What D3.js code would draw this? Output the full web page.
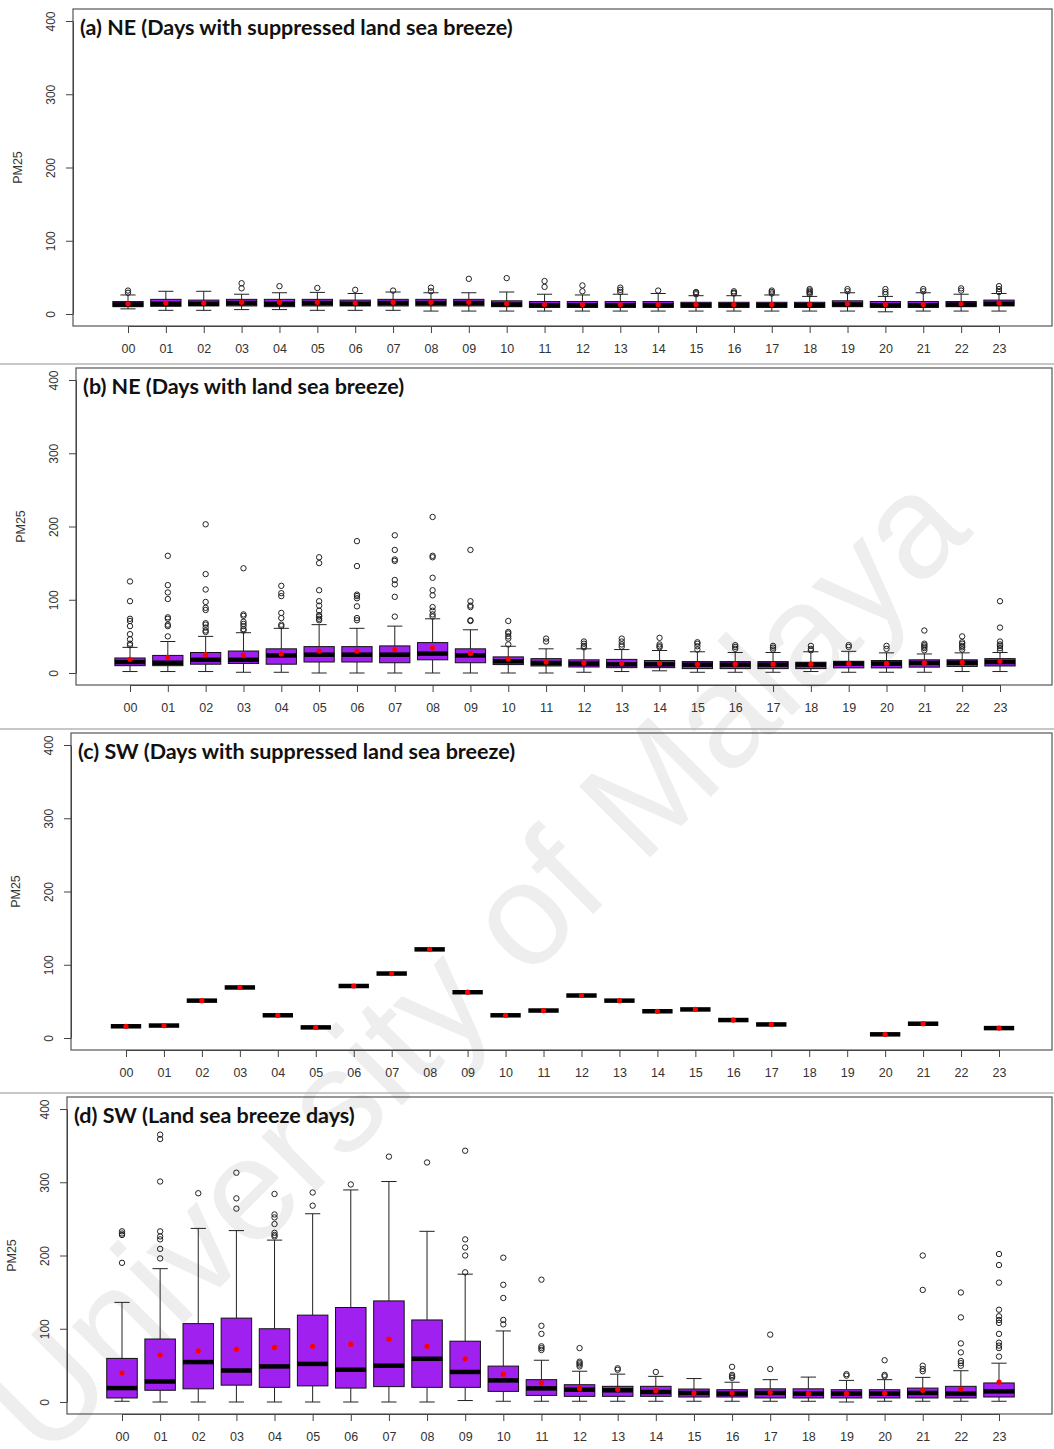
<!DOCTYPE html>
<meta charset="utf-8">
<style>

body {
  margin: 0;
  background: #fff;
}
svg text {
  font-family: "Liberation Sans", Arial, sans-serif;
}
.frame {
  fill: none;
  stroke: #555;
  stroke-width: 1.2px;
}
.axis path,
.axis line {
  fill: none;
  stroke: #444;
}
.axis text {
  fill: #333;
}
.title {
  font-family: Lato, "Open Sans", sans-serif;
  font-weight: bold;
  font-size: 21.5px;
  fill: #111;
}
.whisker {
  stroke: #222;
  stroke-width: 1px;
}
.box {
  fill: #a020f0;
  stroke: #111;
  stroke-width: 1px;
}
.median {
  stroke: #000;
  stroke-width: 4.5px;
}
.out {
  fill: none;
  stroke: #222;
  stroke-width: 1px;
}
.mean {
  fill: #ff0000;
}

</style>
<body>
<script src="https://d3js.org/d3.v7.min.js"></script>
<script>

var hours = ["00","01","02","03","04","05","06","07","08","09","10","11",
             "12","13","14","15","16","17","18","19","20","21","22","23"];
var yTicks = [0, 100, 200, 300, 400];

// (a) NE, suppressed land sea breeze
var aLow  = [7,5,5,6,6,5,5,5,4,4,4,4,4,4,4,4,4,4,4,4,3,4,4,4];
var aQ1   = [10,10.5,11,11,10,11,11,11,11,11,10,9,9,9,9,9,9,9,9,10,9,9,10,11];
var aMed  = [13,14,14,15,14,15,14,15,15,15,13,12,12,12,12,12,12,12,12,13,12,12,13,14];
var aQ3   = [17,20,19,20,20,20,19,20,20,20,18,17,17,17,17,16,16,16,16,18,17,17,17,19];
var aHigh = [26,31,31,27,29,29.5,28,30,29,29,30,27,26,27,28,25,25,26,24,29,24,29,27,28];
var aMean = [14,15,15,16,16,16,15,16,16,16,14,13,13,13,13,13,13,13,13,14,13,13,14,15];
var aOut  = [[29,32],[],[],[35,42],[38],[35.5],[33],[32],[31,36],[48],[49],[37,45],
             [31,39],[30,33,36],[32],[27,29,30],[28,29,31],[28,30,32],[27,29,30,32,34],
             [31,34],[27,30,34],[31,34],[32,35],[30,34,38]];

// (b) NE, land sea breeze
var bLow  = [2,2,2,1,1,0,0,0,0,0,0,0,1,2,3,1,1,1,2,1,1,1,2,2];
var bQ1   = [10,10,12,13,12,15,15,14,18,14,11.5,9.6,8.2,7.3,7.3,6,6,6,6,7,7,8,9,9.6];
var bMed  = [15,14,18,18,24,25,25,25,26.5,24,16,13.7,12.8,11.8,11.8,11.4,11.4,11.4,11.4,12.8,12.8,13.7,14,15];
var bQ3   = [20.5,24,28,30,33,36,36,37,41.5,33,22,19.6,18,18.6,17,15.6,15.6,15.6,14.7,16,17,18,18,19.6];
var bHigh = [35,43,50,55,61,66,61,64,74,59,36.5,33,33,32,30.7,29,28,28,29,29.6,27.5,26,27.5,28];
var bMean = [18.7,21,25,24.5,26,30,30,32,34,26.5,19,15,13.7,12.8,12.8,11.8,12,12,12,13,13,14,14.5,16];
var bOut  = [[125,98,74,71,64,53,46,40,38],
             [160,120,110,101,76,74,66,64,50],
             [203,135,114,97,89,86,68,66,62,58,56],
             [143,80,78,70,67,64,60,58],
             [119,109,105,82,75,66,64],
             [158,150,113,98,92,85,79,77,74,72],
             [180,146,107,105,102,91,75,72],
             [188,168,155,153,127,121,104,77],
             [213,160,158,130,113,106,90,85,80,77],
             [168,98,92,90,72,71],
             [71,56,54,50,47,39],
             [47,43],
             [43,40,37,35],
             [47,43,39,36],
             [48,39,36.5,35],
             [42,40,36.5,32],
             [38,35.6,33],
             [37,34.6,32],
             [37,33,31],
             [38,35.6],
             [37,33],
             [58,40,38,36,34,31],
             [50,42,40,37,35,32],
             [98,62,43,39,37,34,31]];

// (c) SW, suppressed land sea breeze (one value per hour, none at 18, 19, 22)
var cVal  = [16,17,51,69,31,14.5,71,88,121,62.5,31,37.5,58,51,36.5,39,24.5,18.5,null,null,5,19.5,null,13.5];

// (d) SW, land sea breeze days
var dLow  = [1,0,0,0,0,0,0,0,0,2,1,1,1,1,1,1,1,1,1,0,1,1,1,1];
var dQ1   = [5.5,16,18,23,20,22,19,21,20,20,14.5,9,7.7,7.7,7.7,6.8,6.8,5.5,5.5,5.5,5.5,5.5,5.5,6.8];
var dMed  = [19,28,54.5,43,48.6,52,44,49.5,59,41,29.5,18.6,16.8,16,13.6,12.3,11.4,12.3,11.4,11.4,11.4,12.3,11.4,14.5];
var dQ3   = [59.5,86,107,114.5,100,118.6,129,138,112,83,49,30.5,23.6,21.4,21.4,17.7,16.8,18,18,16.8,16.8,19,21.4,26];
var dHigh = [136,182,237,234,221,257,289.5,301,233,174.5,97,57,42,38,35,32,27,30.5,34,29.5,30.5,33.6,42.7,53];
var dMean = [39.5,64,70,72,74.5,76,79,86,76,59,38,26,18.6,17,15.5,12.3,12.3,13,11.4,11.4,11.8,16,17.7,27];
var dOut  = [[233,230,228,190],
             [365,359,301,233,226,222,209,196],
             [285],
             [313,278,264],
             [284,256,252,243,231,228,226],
             [286,268],
             [297],
             [335],
             [327],
             [343,222,211,200,177],
             [197,160,142,112,106],
             [167,104,93,76,73.6,71],
             [73.6,55,53,51,48.6],
             [46,44],
             [41],
             [],
             [48,37,35,33],
             [92,45],
             [],
             [38,36],
             [57,37,35],
             [200,153,49.5,45,42],
             [149.5,115.5,80,67.7,56,53,49.5],
             [202,187,163,126,117,112,108,93,81,77,73.6,62]];

var titles = ["(a) NE (Days with suppressed land sea breeze)",
              "(b) NE (Days with land sea breeze)",
              "(c) SW (Days with suppressed land sea breeze)",
              "(d) SW (Land sea breeze days)"];

var panels = [
  {low: aLow, q1: aQ1, med: aMed, q3: aQ3, high: aHigh, mean: aMean, out: aOut},
  {low: bLow, q1: bQ1, med: bMed, q3: bQ3, high: bHigh, mean: bMean, out: bOut},
  {low: cVal, q1: cVal, med: cVal, q3: cVal, high: cVal, mean: cVal, out: cVal.map(function() { return []; })},
  {low: dLow, q1: dQ1, med: dMed, q3: dQ3, high: dHigh, mean: dMean, out: dOut}
];

// layout of each panel in the page
var panelTop  = [9, 368, 733, 1097],
    frameLeft = [73, 76, 71, 67],
    firstX    = [128, 130, 126, 122],
    lastX     = [999, 1000, 999, 999],
    frameRight = 1052,
    frameH = 317;

var svg = d3.select("body").append("svg")
    .attr("width", 1054)
    .attr("height", 1449);

// watermark behind everything
svg.append("text")
    .attr("transform", "translate(474,962) rotate(-45)")
    .attr("text-anchor", "middle")
    .attr("dominant-baseline", "central")
    .style("font-size", "146px")
    .style("fill", "#eeeeee")
    .text("University of Malaya");

// thin separators between the stacked pictures
[364, 729, 1093].forEach(function(yy) {
  svg.append("line")
      .attr("x1", 0).attr("x2", 1054)
      .attr("y1", yy).attr("y2", yy)
      .style("stroke", "#b5b5b5")
      .style("stroke-width", 1.5);
});

panels.forEach(function(p, k) {
  var top = panelTop[k],
      bottom = top + frameH;

  var x = d3.scaleLinear().domain([0, 23]).range([firstX[k], lastX[k]]);
  var y = d3.scaleLinear().domain([0, 400]).range([top + 305, top + 12]);
  var boxW = (x(1) - x(0)) * 0.8;

  var g = svg.append("g");

  g.append("rect")
      .attr("class", "frame")
      .attr("x", frameLeft[k])
      .attr("y", top)
      .attr("width", frameRight - frameLeft[k])
      .attr("height", frameH);

  var xAxis = d3.axisBottom(x)
      .tickValues(d3.range(24))
      .tickFormat(function(i) { return hours[i]; })
      .tickSize(7)
      .tickSizeOuter(0)
      .tickPadding(11);

  g.append("g")
      .attr("class", "x axis")
      .attr("transform", "translate(0," + bottom + ")")
      .call(xAxis)
      .selectAll("text")
      .style("font-size", "12.5px");

  var yAxis = d3.axisLeft(y)
      .tickValues(yTicks)
      .tickSize(7)
      .tickSizeOuter(0);

  g.append("g")
      .attr("class", "y axis")
      .attr("transform", "translate(" + frameLeft[k] + ",0)")
      .call(yAxis)
      .selectAll("text")
      .attr("transform", "rotate(-90)")
      .attr("x", 0)
      .attr("y", -18)
      .attr("dy", 0)
      .style("text-anchor", "middle")
      .style("font-size", "12px");

  g.append("text")
      .attr("transform", "translate(" + (frameLeft[k] - 51) + "," + ((y(0) + y(400)) / 2) + ") rotate(-90)")
      .attr("text-anchor", "middle")
      .style("font-size", "12.5px")
      .style("fill", "#333")
      .text("PM25");

  g.append("text")
      .attr("class", "title")
      .attr("x", frameLeft[k] + 7)
      .attr("y", top + 26)
      .text(titles[k]);

  var idx = d3.range(24).filter(function(i) { return p.med[i] != null; });

  var box = g.selectAll(".hour")
      .data(idx)
    .enter().append("g")
      .attr("class", "hour");

  // whiskers
  box.append("line")
      .attr("class", "whisker")
      .attr("x1", function(i) { return x(i); })
      .attr("x2", function(i) { return x(i); })
      .attr("y1", function(i) { return y(p.high[i]); })
      .attr("y2", function(i) { return y(p.q3[i]); });
  box.append("line")
      .attr("class", "whisker")
      .attr("x1", function(i) { return x(i); })
      .attr("x2", function(i) { return x(i); })
      .attr("y1", function(i) { return y(p.q1[i]); })
      .attr("y2", function(i) { return y(p.low[i]); });
  ["high", "low"].forEach(function(key) {
    box.append("line")
        .attr("class", "whisker")
        .attr("x1", function(i) { return x(i) - boxW / 4; })
        .attr("x2", function(i) { return x(i) + boxW / 4; })
        .attr("y1", function(i) { return y(p[key][i]); })
        .attr("y2", function(i) { return y(p[key][i]); });
  });

  box.append("rect")
      .attr("class", "box")
      .attr("x", function(i) { return x(i) - boxW / 2; })
      .attr("width", boxW)
      .attr("y", function(i) { return y(p.q3[i]); })
      .attr("height", function(i) { return y(p.q1[i]) - y(p.q3[i]); });

  box.append("line")
      .attr("class", "median")
      .attr("x1", function(i) { return x(i) - boxW / 2; })
      .attr("x2", function(i) { return x(i) + boxW / 2; })
      .attr("y1", function(i) { return y(p.med[i]); })
      .attr("y2", function(i) { return y(p.med[i]); });

  box.selectAll(".out")
      .data(function(i) { return p.out[i].map(function(v) { return {i: i, v: v}; }); })
    .enter().append("circle")
      .attr("class", "out")
      .attr("cx", function(d) { return x(d.i); })
      .attr("cy", function(d) { return y(d.v); })
      .attr("r", 2.7);

  box.append("circle")
      .attr("class", "mean")
      .attr("cx", function(i) { return x(i); })
      .attr("cy", function(i) { return y(p.mean[i]); })
      .attr("r", 2.6);
});

</script>
